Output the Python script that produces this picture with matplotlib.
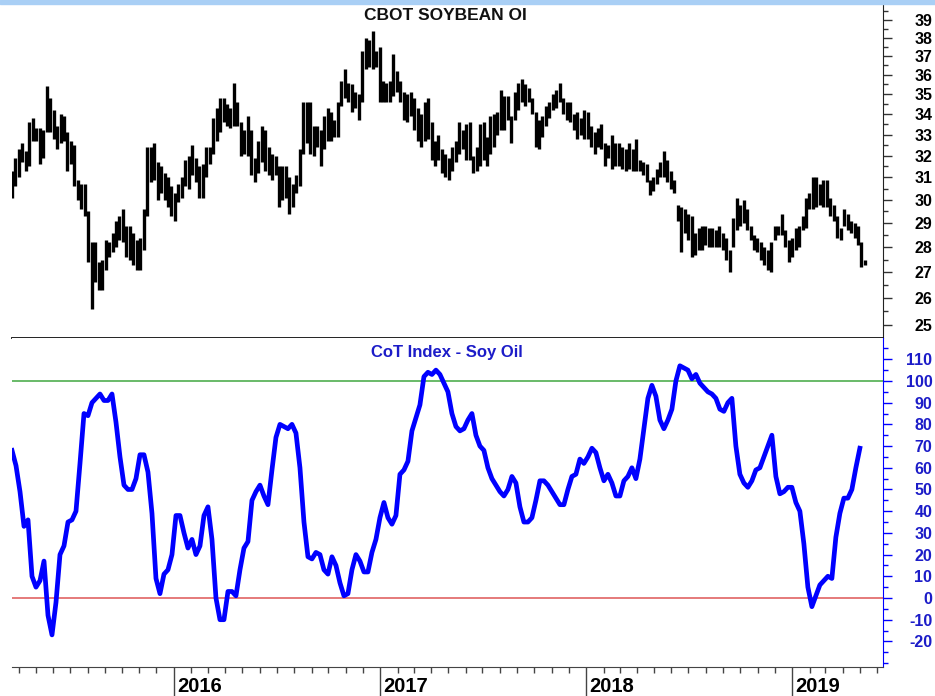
import matplotlib
matplotlib.use("Agg")
import matplotlib.pyplot as plt
import matplotlib.dates as mdates
from matplotlib.ticker import FixedLocator, NullFormatter, FuncFormatter
from matplotlib.patches import Rectangle
import pandas as pd

plt.rcParams['font.family'] = ['Liberation Sans', 'DejaVu Sans']
plt.rcParams['axes.unicode_minus'] = False

# Wochenbalken Sojaöl (Hoch / Tief), gelesen aus dem Chart
price_high = [
    31.3, 31.9, 32.3, 32.6, 32.2, 33.6, 33.8, 33.3, 33.3, 33.2, 35.4, 34.8, 34.2, 33.4, 34.0, 33.9, 33.1, 32.7, 32.5, 30.9, 30.7,
    30.7, 29.5, 28.2, 28.2, 27.4, 27.5, 28.3, 28.2, 28.6, 29.1, 29.3, 29.6, 28.9, 28.9, 28.6, 28.3, 28.4, 29.6, 32.4, 32.4, 32.6, 31.7,
    31.5, 31.2, 31.0, 30.6, 30.3, 30.7, 31.0, 31.8, 32.0, 32.5, 31.9, 31.5, 31.6, 32.4, 32.4, 33.8, 34.3, 34.8, 34.8, 34.5,
    34.3, 35.6, 34.6, 33.6, 33.2, 33.9, 33.2, 31.9, 32.7, 33.4, 33.2, 32.4, 32.1, 32.0, 31.5, 31.5, 31.5, 31.0, 30.7, 31.1,
    32.3, 34.6, 34.6, 34.6, 33.4, 33.4, 33.2, 33.9, 34.3, 34.1, 33.7, 34.6, 35.7, 36.3, 35.6, 35.5, 35.1, 35.0, 37.3, 38.0,
    37.9, 38.4, 37.3, 37.5, 35.7, 35.6, 35.7, 37.1, 36.2, 35.7, 35.1, 35.0, 35.1, 34.8, 34.3, 34.0, 34.6, 34.8, 33.6, 32.7,
    33.0, 32.3, 32.1, 31.9, 32.4, 32.7, 33.6, 33.2, 33.5, 33.6, 32.0, 32.4, 33.5, 33.6, 32.9, 33.9, 34.0, 34.1, 35.2, 34.9,
    34.9, 33.9, 35.1, 35.6, 35.8, 35.5, 35.3, 34.8, 34.1, 33.7, 33.9, 34.4, 34.6, 35.0, 35.2, 35.6, 34.8, 34.6, 34.6, 34.0,
    34.1, 33.8, 34.2, 34.1, 33.4, 33.1, 33.3, 33.5, 32.6, 32.5, 33.0, 32.6, 32.6, 32.4, 32.3, 32.6, 32.3, 32.8, 31.8, 31.7,
    31.6, 30.9, 31.0, 31.4, 31.7, 32.2, 31.8, 31.3, 30.9, 29.8, 29.7, 29.6, 29.4, 29.3, 28.6, 28.8, 28.9, 28.9,
    28.8, 28.8, 28.7, 28.9, 28.6, 28.4, 27.9, 29.2, 30.1, 29.8, 30.0, 29.6, 28.9, 28.5, 28.4, 28.2, 28.0, 27.9, 28.2, 28.9,
    28.9, 29.4, 28.7, 28.3, 28.4, 28.8, 28.9, 29.3, 30.1, 30.3, 31.0, 31.0, 30.7, 30.9, 30.9, 30.1, 29.8, 29.3, 28.8,
    29.6, 29.4, 29.1, 29.0, 28.9, 28.2, 27.5,
]
price_low = [
    30.1, 30.6, 31.0, 31.7, 31.3, 31.5, 32.7, 32.7, 31.6, 31.9, 33.1, 33.1, 32.8, 32.3, 32.6, 32.7, 31.3, 31.6, 30.6, 30.0, 29.6,
    29.3, 27.4, 25.6, 26.6, 26.3, 26.3, 27.1, 27.6, 27.8, 28.0, 28.3, 28.2, 27.6, 27.5, 27.3, 27.1, 27.1, 27.9, 29.3, 30.8, 30.9, 30.0,
    30.3, 30.0, 29.7, 29.3, 29.1, 29.9, 30.1, 30.6, 30.5, 31.1, 30.8, 30.1, 30.1, 31.0, 31.6, 32.1, 32.7, 33.1, 33.6, 33.4,
    33.3, 33.4, 33.4, 32.0, 32.1, 32.0, 31.1, 30.8, 31.2, 31.7, 31.3, 31.1, 30.9, 31.1, 29.7, 30.0, 30.1, 29.4, 29.7, 30.3,
    30.6, 32.1, 32.6, 32.1, 32.0, 32.4, 31.5, 32.3, 32.7, 32.7, 32.9, 32.9, 34.4, 34.8, 34.6, 34.1, 34.3, 33.7, 34.6, 36.3,
    36.4, 36.3, 36.4, 34.6, 34.6, 34.6, 34.6, 34.9, 35.1, 34.6, 33.7, 33.6, 33.9, 33.2, 32.7, 32.4, 32.7, 32.8, 31.8, 31.5,
    31.8, 31.2, 31.0, 30.9, 31.3, 31.7, 32.1, 32.3, 31.8, 31.8, 31.2, 31.3, 31.5, 31.8, 31.5, 32.1, 32.4, 33.0, 33.2, 33.2,
    33.7, 32.6, 33.7, 34.2, 34.6, 34.4, 34.6, 34.0, 32.4, 32.3, 32.9, 33.4, 33.8, 34.2, 34.3, 34.6, 34.0, 33.7, 33.6, 33.2,
    32.8, 33.0, 32.8, 32.8, 32.4, 32.1, 32.4, 32.3, 31.5, 31.9, 31.4, 31.5, 31.5, 31.4, 31.3, 31.4, 31.3, 31.3, 31.3, 31.1,
    30.8, 30.2, 30.4, 30.7, 31.0, 31.0, 30.8, 30.5, 30.3, 29.1, 27.8, 28.6, 28.3, 27.6, 27.7, 27.9, 27.9, 28.1,
    28.0, 28.0, 28.0, 28.0, 27.9, 27.5, 27.0, 28.0, 28.7, 28.9, 29.0, 28.7, 28.3, 27.9, 27.8, 27.5, 27.3, 27.1, 27.0, 28.3,
    28.5, 28.5, 28.0, 27.4, 27.6, 27.9, 28.0, 28.7, 28.8, 29.6, 29.6, 29.7, 29.8, 29.7, 29.7, 29.3, 29.1, 28.4, 28.3,
    28.9, 28.7, 28.6, 28.4, 28.1, 27.2, 27.3,
]

# CoT-Index Sojaöl, wöchentlich
cot_index = [
    68, 61, 49, 33, 36, 10, 5, 8, 17, -8, -17, -2, 20, 24, 35, 36, 40, 62, 85, 84,
    90, 92, 94, 91, 91, 94, 81, 65, 52, 50, 50, 55, 66, 66, 58, 39, 9, 2, 11, 13,
    20, 38, 38, 30, 23, 27, 20, 24, 38, 42, 27, 0, -10, -10, 3, 3, 1, 13, 23, 26,
    45, 49, 52, 47, 43, 59, 74, 80, 79, 78, 80, 76, 60, 35, 19, 18, 21, 20, 13, 11,
    19, 15, 7, 1, 2, 13, 20, 17, 12, 12, 21, 27, 37, 44, 37, 34, 38, 57, 59, 63,
    77, 83, 89, 102, 104, 103, 105, 103, 99, 95, 85, 79, 77, 78, 82, 85, 75, 70, 68, 60,
    55, 52, 49, 47, 50, 56, 53, 42, 35, 35, 37, 45, 54, 54, 52, 49, 46, 43, 43, 50,
    56, 57, 64, 62, 65, 69, 67, 60, 54, 57, 53, 47, 47, 54, 56, 60, 55, 64, 78, 92,
    98, 93, 82, 78, 82, 87, 100, 107, 106, 105, 101, 103, 99, 97, 95, 94, 92, 87, 86, 90,
    92, 70, 57, 53, 51, 54, 59, 60, 65, 70, 75, 56, 48, 49, 51, 51, 44, 40, 25, 5,
    -4, 1, 6, 8, 10, 9, 28, 39, 46, 46, 50, 60, 69,
]

upper_level = 100
lower_level = 0

price_dates = pd.date_range("2015-03-20", "2019-05-10", periods=len(price_high))
cot_dates = pd.date_range("2015-03-20", "2019-05-01", periods=len(cot_index))
years = [2016, 2017, 2018, 2019]

blue = "#0000ff"
label_blue = "#1c1cc8"

fig = plt.figure(figsize=(9.35, 6.96), dpi=100)
fig.patches.append(Rectangle((0, 1 - 4 / 696), 1, 4 / 696, transform=fig.transFigure,
                             color="#a9cff5", zorder=0))

ax1 = fig.add_axes([12 / 935, 1 - 338 / 696, 871 / 935, 334 / 696])
ax2 = fig.add_axes([12 / 935, 1 - 667 / 696, 871 / 935, 329 / 696], sharex=ax1)

# --- oberes Panel: Preisbalken ---
ax1.vlines(price_dates, price_low, price_high, color="black", lw=2.4)
ax1.set_yscale("log")
ax1.set_ylim(24.53, 39.92)
ax1.yaxis.set_major_locator(FixedLocator(range(25, 40)))
ax1.yaxis.set_minor_locator(FixedLocator([v + 0.5 for v in range(24, 40)]))
ax1.yaxis.set_major_formatter(FuncFormatter(lambda v, p: f"{v:.0f}"))
ax1.yaxis.set_minor_formatter(NullFormatter())
ax1.yaxis.tick_right()
ax1.tick_params(axis="y", which="major", length=6.5, width=1, color="#333333",
                labelsize=11.5, pad=29, labelcolor="black")
ax1.tick_params(axis="y", which="minor", length=3.5, width=1, color="#333333")
ax1.tick_params(axis="x", which="both", bottom=False, labelbottom=False)
for s in ["top", "left"]:
    ax1.spines[s].set_visible(False)
ax1.spines["right"].set_color("#222222")
ax1.spines["bottom"].set_color("#111111")
ax1.spines["bottom"].set_linewidth(1.3)
ax1.text(0.498, 0.965, "CBOT SOYBEAN OI", transform=ax1.transAxes, ha="center",
         va="center", fontsize=12.5, fontweight="bold", color="#111111")

# --- unteres Panel: CoT-Index ---
ax2.axhline(upper_level, color="#4fae4f", lw=1.2, zorder=1)
ax2.axhline(lower_level, color="#e06464", lw=1.2, zorder=1)
ax2.plot(cot_dates, cot_index, color=blue, lw=3.4, solid_joinstyle="round", zorder=3)
ax2.set_ylim(-31.8, 119.8)
ax2.yaxis.set_major_locator(FixedLocator(range(-20, 111, 10)))
ax2.yaxis.set_minor_locator(FixedLocator(range(-30, 120, 5)))
ax2.yaxis.tick_right()
ax2.tick_params(axis="y", which="major", length=6.5, width=1, color=blue,
                labelsize=11.5, pad=29, labelcolor=label_blue)
ax2.tick_params(axis="y", which="minor", length=3.5, width=1, color=blue)
for s in ["top", "left"]:
    ax2.spines[s].set_visible(False)
ax2.spines["right"].set_color(blue)
ax2.spines["bottom"].set_color("#444444")
ax2.text(0.4995, 0.957, "CoT Index - Soy Oil", transform=ax2.transAxes, ha="center",
         va="center", fontsize=12, fontweight="bold", color=label_blue)

ax2.set_xlim(pd.Timestamp("2015-03-20"), pd.Timestamp("2019-06-11"))
ax2.xaxis.set_major_locator(mdates.YearLocator())
ax2.xaxis.set_minor_locator(mdates.MonthLocator())
ax2.tick_params(axis="x", which="major", length=22, width=1, color="#444444",
                labelbottom=False)
ax2.tick_params(axis="x", which="minor", length=4, width=1, color="#444444")
for y in years:
    ax2.annotate(str(y), xy=(mdates.date2num(pd.Timestamp(f"{y}-01-01")), 0),
                 xycoords=ax2.get_xaxis_transform(), xytext=(2.2, -13.8),
                 textcoords="offset points", ha="left", va="center",
                 fontsize=14.5, fontweight="bold", color="black",
                 annotation_clip=False)

for ax in (ax1, ax2):
    for lab in ax.get_yticklabels():
        lab.set_horizontalalignment("right")
        lab.set_fontweight("bold")

fig.savefig("out.png", dpi=100)
